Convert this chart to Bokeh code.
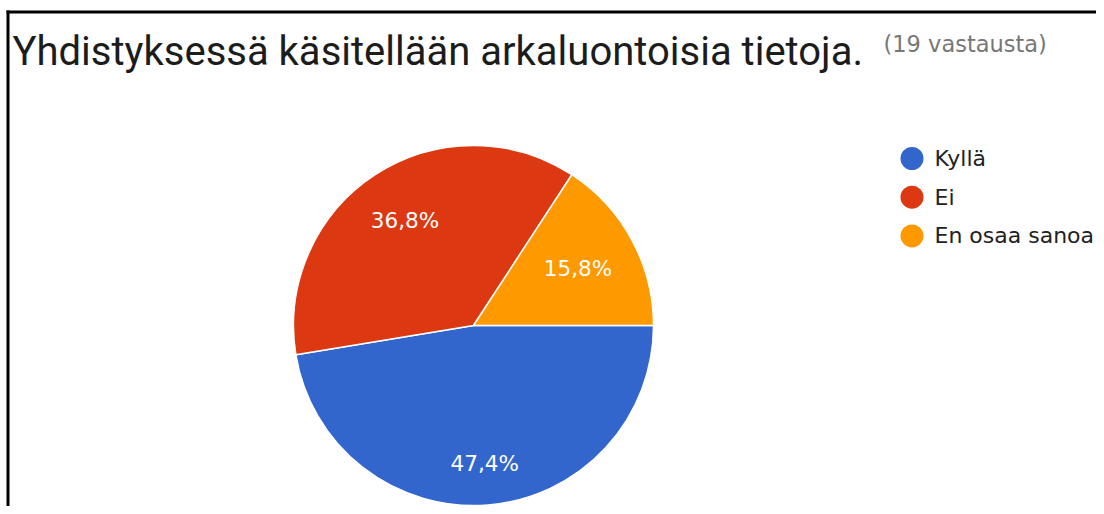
import math
from bokeh.plotting import figure
from bokeh.models import Range1d, ColumnDataSource
from bokeh.core.properties import value
from bokeh.embed import file_html
from bokeh.resources import INLINE

# ---- data ----
title_text = "Yhdistyksessä käsitellään arkaluontoisia tietoja."
subtitle_text = "(19 vastausta)"
categories = ["Kyllä", "Ei", "En osaa sanoa"]
percents = [47.4, 36.8, 15.8]
colors = ["#3366CC", "#DC3912", "#FF9900"]

# ---- layout (pixel coordinates, y measured from top) ----
W, H = 1096, 506
TFONT = "Roboto"
FONT = "DejaVu Sans"
cx, cy, R = 473, 325, 180


def Y(y):
    return H - y


p = figure(width=W, height=H, output_backend="svg", toolbar_location=None,
           x_range=Range1d(0, W), y_range=Range1d(0, H),
           x_axis_location=None, y_axis_location=None, min_border=0,
           outline_line_color=None)
p.grid.visible = False
p.background_fill_color = "white"
p.border_fill_color = "white"

# frame lines (left and top)
p.segment(x0=[7.5, 6], y0=[Y(10), Y(11.5)], x1=[7.5, W], y1=[0, Y(11.5)],
          line_color="black", line_width=3)

# ---- pie ----
total = sum(percents)
starts, ends, lx, ly, labels = [], [], [], [], []
cum = 0.0
tw, th = 68, 17  # approximate label box
T = 0.85 * R
for v in percents:
    a0 = -2 * math.pi * cum / total
    a1 = -2 * math.pi * (cum + v) / total
    starts.append(a0)
    ends.append(a1)
    m = (a0 + a1) / 2
    c, s = math.cos(m), math.sin(m)
    b = abs(c) * tw + abs(s) * th
    c0 = (tw ** 2 + th ** 2) / 4 - T ** 2
    d = (-b + math.sqrt(b * b - 4 * c0)) / 2
    lx.append(cx + d * c)
    ly.append(Y(cy) + d * s)
    labels.append(f"{v:.1f}".replace(".", ",") + "%")
    cum += v

src = ColumnDataSource(dict(start=starts, end=ends, color=colors,
                            lx=lx, ly=ly, label=labels))
p.wedge(x=cx, y=Y(cy), radius=R, start_angle="start", end_angle="end",
        direction="clock", fill_color="color", line_color="white",
        line_width=1.5, source=src)
p.text(x="lx", y="ly", text="label", source=src, text_color="white",
       text_font=value(FONT), text_font_size="21.5px", text_align="center",
       text_baseline="middle")

# ---- title ----
p.text(x=[12], y=[Y(51)], text=[title_text], text_font=value(TFONT),
       text_font_size="40px", text_color="#1c1c1c", text_baseline="alphabetic")
p.text(x=[883], y=[Y(43.5)], text=[subtitle_text], text_font=value(FONT),
       text_font_size="22.5px", text_color="#777777", text_baseline="alphabetic")

# ---- legend ----
leg_y = [Y(158 + 38.7 * i) for i in range(len(categories))]
p.scatter(x=[911.5] * len(categories), y=leg_y, size=23, marker="circle",
          fill_color=colors, line_color=None)
p.text(x=[934] * len(categories), y=leg_y, text=categories,
       text_font=value(FONT), text_font_size="22px", text_color="#222222",
       text_baseline="middle")

open("out.html", "w").write(file_html(p, INLINE))
